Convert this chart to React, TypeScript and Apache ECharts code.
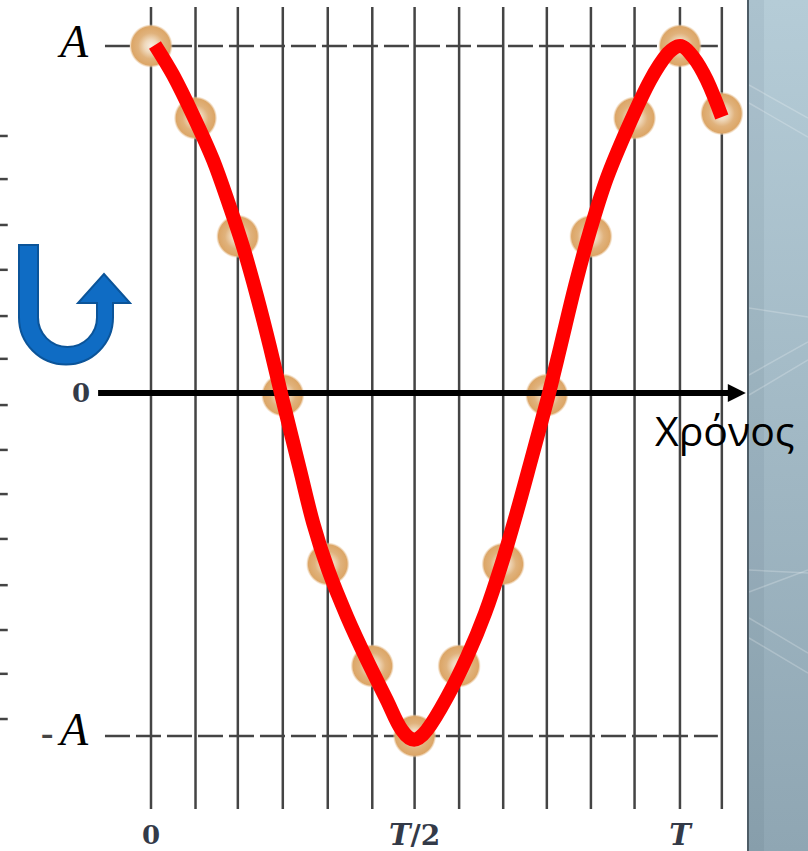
import React, { useEffect, useRef } from "react";
import * as echarts from "echarts";

const gridX = [0, 1.01, 1.97, 2.99, 4.01, 5.02, 5.98, 6.99, 7.99, 8.98, 9.98, 10.97, 12, 12.95];
const dotY = [1.006, 0.797, 0.454, -0.006, -0.496, -0.791, -0.994, -0.791, -0.496, -0.006, 0.454, 0.797, 1.006, 0.81];
const curveX = [0.09, 0.5, 0.95, 1.41, 1.79, 2.09, 2.41, 2.7, 2.97, 3.38, 3.68, 4.02, 4.45, 4.9, 5.35, 5.69, 5.97, 6.26, 6.72, 7.17, 7.58, 7.96, 8.3, 8.6, 9.01, 9.28, 9.62, 9.96, 10.34, 10.82, 11.32, 11.73, 12, 12.3, 12.61, 12.95];
const curveY = [1.009, 0.922, 0.806, 0.675, 0.539, 0.423, 0.278, 0.133, -0.012, -0.223, -0.377, -0.513, -0.649, -0.774, -0.89, -0.977, -1.005, -0.977, -0.881, -0.765, -0.638, -0.493, -0.345, -0.205, -0.01, 0.13, 0.31, 0.47, 0.622, 0.77, 0.905, 0.985, 1.006, 0.974, 0.907, 0.8];
const yTickValues = [1.006, 0, -0.994];
const yTickLabels = ["{a|A}", "{z|0}", "{m|-}{b|A}"];
const xTickValues = [0, 5.98, 12];
const xTickLabels = ["{z|0}", "{t|T}{s|/2}", "{t|T}"];
const strayTicks = [0.745, 0.62, 0.487, 0.357, 0.223, 0.099, -0.035, -0.165, -0.293, -0.423, -0.557, -0.687, -0.814, -0.945];
const timeLabel = "Χρόνος";

const X_MIN = -3.4256;
const X_MAX = 14.9048;
const Y_MAX = 1.1188;
const Y_MIN = -1.2058;
const GREY = "#444444";
const LABEL = "#333a48";

echarts.graphic.registerShape(
  "uArrow",
  echarts.graphic.extendPath(
    "M19 245 H38 V317.5 A29.5 29.5 0 0 0 97 317.5 V303 H78 L104 274 L130 303 H113 V317.5 A47 47 0 0 1 19 317.5 Z",
    {}
  )
);

const panelLines = [
  [749, 85, 808, 118],
  [749, 103, 808, 137],
  [749, 308, 808, 317],
  [749, 375, 808, 342],
  [749, 395, 808, 360],
  [749, 570, 808, 573],
  [749, 592, 808, 570],
  [749, 618, 808, 653],
  [749, 638, 808, 673],
];

export default function App() {
  const ref = useRef<HTMLDivElement>(null);
  useEffect(() => {
    const chart = echarts.init(ref.current!, null, { renderer: "svg" });
    const line = (name: string, data: number[][], width: number, color: string, z: number, extra: any = {}) => ({
      name,
      type: "line",
      data,
      clip: false,
      silent: true,
      symbol: "none",
      z,
      lineStyle: { width, color, cap: "butt", ...extra },
    });
    chart.setOption({
      animation: false,
      backgroundColor: "#ffffff",
      grid: { left: 0, right: 0, top: 7, bottom: 42, outerBoundsMode: "none" },
      xAxis: {
        type: "value",
        min: X_MIN,
        max: X_MAX,
        axisLine: { show: false },
        axisTick: { show: false },
        splitLine: { show: false },
        axisLabel: {
          customValues: xTickValues,
          margin: 13,
          formatter: (v: number) => xTickLabels[xTickValues.indexOf(v)],
          rich: {
            z: { fontFamily: "DejaVu Serif", fontSize: 26, lineHeight: 26, fontWeight: "bold", color: LABEL },
            s: { fontFamily: "DejaVu Serif", fontSize: 28, lineHeight: 26, fontWeight: "bold", color: LABEL },
            t: { fontFamily: "DejaVu Serif", fontSize: 29, lineHeight: 26, fontStyle: "italic", fontWeight: "bold", color: LABEL },
          },
        },
      },
      yAxis: {
        type: "value",
        min: Y_MIN,
        max: Y_MAX,
        position: "left",
        offset: -90,
        axisLine: { show: false },
        axisTick: { show: false },
        splitLine: { show: false },
        axisLabel: {
          customValues: yTickValues,
          margin: 0,
          formatter: (v: number) => yTickLabels[yTickValues.indexOf(v)],
          rich: {
            a: { fontFamily: "Liberation Serif", fontSize: 46, fontStyle: "italic", color: "#000000", padding: [0, 2, 8, 0] },
            b: { fontFamily: "Liberation Serif", fontSize: 46, fontStyle: "italic", color: "#000000", padding: [0, 2, 12, 0] },
            z: { fontFamily: "DejaVu Serif", fontSize: 26, fontWeight: "bold", color: LABEL },
            m: { fontFamily: "Liberation Sans", fontSize: 40, color: GREY, padding: [0, 6, 6, 0] },
          },
        },
      },
      series: [
        ...gridX.map((x, i) =>
          line(`grid${i}`, [[x, Y_MAX], [x, Y_MIN]], 2.5, GREY, 1)
        ),
        line("A", [[-1.044, yTickValues[0]], [12.86, yTickValues[0]]], 2.5, GREY, 1, { type: [25, 6] }),
        line("-A", [[-1.044, yTickValues[2]], [12.86, yTickValues[2]]], 2.5, GREY, 1, { type: [25, 6] }),
        ...strayTicks.map((y, i) =>
          line(`stray${i}`, [[X_MIN, y], [-3.25, y]], 2.5, GREY, 1)
        ),
        {
          name: "samples",
          type: "scatter",
          data: gridX.map((x, i) => [x, dotY[i]]),
          symbolSize: 43,
          clip: false,
          silent: true,
          z: 3,
          itemStyle: {
            opacity: 1,
            color: new echarts.graphic.RadialGradient(0.5, 0.5, 0.5, [
              { offset: 0, color: "#f8eee2" },
              { offset: 0.3, color: "#efd8bb" },
              { offset: 0.6, color: "#e0b27c" },
              { offset: 0.9, color: "#dca667" },
              { offset: 1, color: "rgba(240,215,185,0.3)" },
            ]),
          },
        },
        line("time axis", [[-1.2, 0], [13.1, 0]], 6, "#000000", 4),
        {
          name: "arrow",
          type: "scatter",
          data: [[13.29, 0]],
          symbol: "triangle",
          symbolRotate: -90,
          symbolSize: [18, 18],
          clip: false,
          silent: true,
          z: 4,
          itemStyle: { color: "#000000", opacity: 1 },
        },
        {
          name: "signal",
          type: "line",
          data: curveX.map((x, i) => [x, curveY[i]]),
          smooth: 0.33,
          symbol: "none",
          clip: false,
          silent: true,
          z: 5,
          lineStyle: { width: 14, color: "#ff0000", cap: "butt", join: "round" },
        },
      ],
      graphic: {
        elements: [
          {
            type: "rect",
            silent: true,
            z: 10,
            shape: { x: 748, y: 0, width: 60, height: 851 },
            style: {
              fill: new echarts.graphic.LinearGradient(0, 0, 0, 1, [
                { offset: 0, color: "#b5ccd7" },
                { offset: 1, color: "#8fa6b3" },
              ]),
            },
          },
          {
            type: "rect",
            silent: true,
            z: 11,
            shape: { x: 748, y: 0, width: 16, height: 851 },
            style: { fill: "rgba(0,20,40,0.05)" },
          },
          ...panelLines.map((p) => ({
            type: "line",
            silent: true,
            z: 11,
            shape: { x1: p[0], y1: p[1], x2: p[2], y2: p[3] },
            style: { stroke: "rgba(255,255,255,0.22)", lineWidth: 1.5 },
          })),
          {
            type: "line",
            silent: true,
            z: 12,
            shape: { x1: 748, y1: 0, x2: 748, y2: 851 },
            style: { stroke: "#4d5c66", lineWidth: 2 },
          },
          {
            type: "uArrow",
            silent: true,
            z: 12,
            x: 0,
            y: 0,
            style: { fill: "#0f6cc4", stroke: "#0b5499", lineWidth: 2 },
          },
          {
            type: "text",
            silent: true,
            z: 13,
            x: 655,
            y: 409,
            style: { text: timeLabel, font: '41px "Open Sans"', fill: "#000000" },
          },
        ],
      },
    });
    return () => chart.dispose();
  }, []);
  return (
    <div
      ref={ref}
      style={{ position: "absolute", left: 0, top: 0, width: 808, height: 851 }}
    />
  );
}
